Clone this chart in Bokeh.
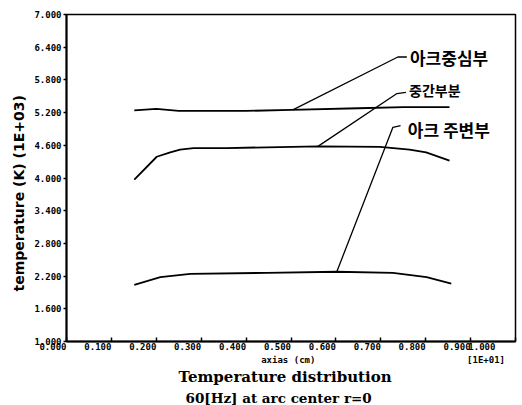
import numpy as np
from bokeh.plotting import figure
from bokeh.models import (Label, Range1d, FixedTicker, PrintfTickFormatter,
                          Title)
from bokeh.embed import file_html
from bokeh.resources import INLINE

# axial position (x 1E+01 cm) and temperature (K x 1E+03)
center_x = [0.151, 0.20, 0.25, 0.30, 0.40, 0.50, 0.65, 0.75, 0.853]
center_T = [5.24, 5.27, 5.23, 5.23, 5.23, 5.25, 5.28, 5.30, 5.30]

middle_x = [0.151, 0.201, 0.231, 0.253, 0.283, 0.357, 0.56, 0.698, 0.764, 0.801, 0.853]
middle_T = [3.97, 4.39, 4.47, 4.52, 4.55, 4.55, 4.58, 4.57, 4.52, 4.47, 4.32]

outer_x = [0.151, 0.209, 0.276, 0.446, 0.602, 0.727, 0.802, 0.857]
outer_T = [2.04, 2.18, 2.24, 2.26, 2.28, 2.26, 2.18, 2.06]

series_names = ["아크중심부", "중간부분", "아크 주변부"]

x_ticks = [0.0, 0.1, 0.2, 0.3, 0.4, 0.5, 0.6, 0.7, 0.8, 0.9, 1.0]
y_ticks = [1.0, 1.6, 2.2, 2.8, 3.4, 4.0, 4.6, 5.2, 5.8, 6.4, 7.0]

x_caption = "axias (cm)"
x_scale_note = "[1E+01]"
y_caption = "temperature (K) (1E+03)"
title_lines = ["Temperature distribution", "60[Hz] at arc center r=0"]

NBSP = "\u00a0"

p = figure(frame_width=449, frame_height=327,
           x_range=Range1d(0, 1), y_range=Range1d(1, 7),
           output_backend="svg", toolbar_location=None,
           min_border_left=66, min_border_right=7,
           min_border_top=14, min_border_bottom=64)
p.xgrid.visible = False
p.ygrid.visible = False
p.background_fill_color = "white"
p.border_fill_color = "white"
p.outline_line_color = "black"
p.outline_line_width = 1.5

for ax in (p.xaxis[0], p.yaxis[0]):
    ax.major_label_text_font = "DejaVu Sans Mono"
    ax.major_label_text_font_size = "9px"
    ax.major_label_text_font_style = "bold"
    ax.major_label_text_color = "black"
    ax.minor_tick_line_color = None
    ax.axis_line_width = 2
    ax.major_tick_line_width = 1.5

p.yaxis.ticker = FixedTicker(ticks=y_ticks)
p.yaxis.formatter = PrintfTickFormatter(format="%.3f")
p.yaxis.major_label_standoff = 2
p.yaxis.major_tick_in = 0
p.yaxis.major_tick_out = 3

# x labels carry trailing no-break spaces so each number sits left of its tick
p.xaxis.ticker = FixedTicker(ticks=x_ticks)
p.xaxis.formatter = PrintfTickFormatter(format="%.3f" + NBSP * 5)
p.xaxis.major_label_standoff = 0
p.xaxis.major_tick_in = 4
p.xaxis.major_tick_out = 0

# monospaced caption row: unit caption near the middle, scale note at the right
p.xaxis.axis_label = NBSP * 34 + x_caption + NBSP * 28 + x_scale_note
p.xaxis.axis_label_standoff = 0
p.xaxis.axis_label_text_font = "DejaVu Sans Mono"
p.xaxis.axis_label_text_font_size = "9px"
p.xaxis.axis_label_text_font_style = "bold"
p.xaxis.axis_label_text_color = "black"

# vertical axis caption
p.add_layout(Title(text=y_caption, align="left", offset=50, standoff=9,
                   text_font="DejaVu Sans", text_font_size="14px",
                   text_font_style="bold", text_color="black"), "left")

# two-line chart title under the axis
for line_text, fs, off, so in zip(title_lines, ["15px", "13.5px"],
                                  [112, 119], [0, 4]):
    p.add_layout(Title(text=line_text, align="left", offset=off, standoff=so,
                       vertical_align="top",
                       text_font="DejaVu Serif", text_font_size=fs,
                       text_font_style="bold", text_color="black"), "below")

# temperature curves
curves = [(center_x, center_T), (middle_x, middle_T), (outer_x, outer_T)]
for xs, ts in curves:
    p.line(xs, ts, line_color="black", line_width=1.8)

# leader lines from each curve to its name
leader_at = [0.504, 0.56, 0.602]
elbows = [(0.738, 6.22), (0.736, 5.55), (0.727, 4.93)]
hooks = [(0.758, 6.22), (0.756, 5.57), (0.744, 4.96)]
text_pos = [(0.765, 6.22), (0.763, 5.61), (0.760, 4.89)]
name_sizes = ["17px", "14px", "17px"]
for name, lx, (cx, ct), el, hk, tp, fs in zip(series_names, leader_at, curves,
                                              elbows, hooks, text_pos, name_sizes):
    ly = float(np.interp(lx, cx, ct))
    p.line([lx, el[0], hk[0]], [ly, el[1], hk[1]], line_color="black",
           line_width=1.3)
    p.add_layout(Label(x=tp[0], y=tp[1], text=name, text_align="left",
                       text_baseline="middle", text_font="Noto Sans CJK KR",
                       text_font_size=fs, text_font_style="bold",
                       text_color="black"))

open("out.html", "w").write(file_html(p, INLINE))
